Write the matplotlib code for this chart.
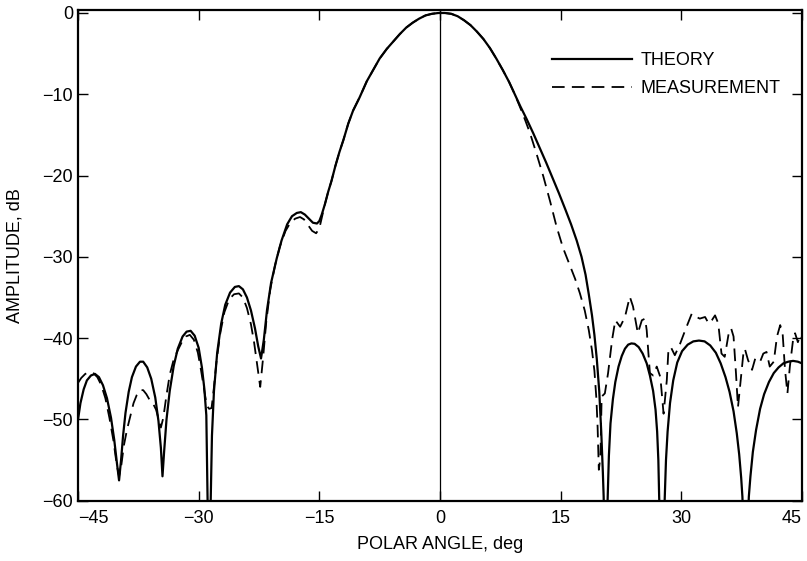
import matplotlib
matplotlib.use("Agg")
import matplotlib.pyplot as plt

plt.rcParams['font.family'] = ['Liberation Sans', 'DejaVu Sans']

# theory pattern (solid)
theory_x = [-45.0, -44.7, -44.3, -43.9, -43.4, -42.9, -42.4, -41.9, -41.4, -40.9,
            -40.5, -40.15, -39.9, -39.65, -39.4, -39.1, -38.7, -38.3, -37.8, -37.3,
            -36.9, -36.4, -35.9, -35.4, -35.0, -34.7, -34.5, -34.3, -34.0, -33.6,
            -33.1, -32.6, -32.0, -31.5, -31.0, -30.5, -30.0, -29.6, -29.3, -29.05,
            -28.9, -28.7, -28.5, -28.35, -28.1, -27.7, -27.2, -26.7, -26.1, -25.5,
            -25.0, -24.5, -24.0, -23.5, -23.0, -22.6, -22.25, -21.9, -21.5, -21.0,
            -20.3, -19.7, -19.0, -18.4, -17.8, -17.3, -16.8, -16.3, -15.8, -15.3,
            -15.0, -14.7, -14.3, -13.9, -13.5, -13.0, -12.5, -12.0, -11.4, -10.8,
            -10.0, -9.1, -8.3, -7.5, -6.6, -5.8, -5.0, -4.2, -3.4, -2.6,
            -1.8, -1.0, -0.2, 0.6, 1.4, 2.2, 3.0, 3.8, 4.6, 5.4,
            6.2, 7.0, 7.8, 8.6, 9.3, 10.0, 10.8, 11.6, 12.4, 13.2,
            14.0, 14.8, 15.6, 16.3, 17.0, 17.6, 18.1, 18.5, 18.9, 19.2,
            19.5, 19.8, 20.05, 20.25, 20.35, 20.55, 20.85, 21.0, 21.2, 21.5,
            21.8, 22.2, 22.6, 23.0, 23.4, 23.8, 24.2, 24.7, 25.2, 25.7,
            26.1, 26.5, 26.8, 27.0, 27.15, 27.25, 27.6, 27.95, 28.1, 28.3,
            28.6, 29.0, 29.5, 30.1, 30.8, 31.5, 32.2, 32.9, 33.6, 34.3,
            34.9, 35.5, 36.0, 36.5, 36.9, 37.2, 37.45, 37.6, 38.0, 38.4,
            38.6, 38.9, 39.3, 39.8, 40.3, 40.9, 41.5, 42.1, 42.7, 43.3,
            43.9, 44.5, 45.0]
theory_db = [-50.0, -48.0, -46.3, -45.2, -44.6, -44.4, -44.8, -45.8, -47.4, -49.8,
             -52.5, -55.5, -57.5, -55.0, -52.0, -49.2, -46.6, -44.8, -43.5, -42.9,
             -42.9, -43.6, -45.0, -47.3, -50.2, -53.5, -57.0, -54.0, -50.0, -46.5,
             -43.4, -41.3, -39.8, -39.2, -39.1, -39.7, -41.2, -43.6, -46.2, -49.5,
             -59.5, -70.0, -59.5, -52.0, -46.5, -41.8, -38.2, -35.9, -34.4, -33.7,
             -33.6, -34.0, -35.0, -36.6, -38.8, -41.0, -42.5, -40.2, -36.5, -33.2,
             -30.2, -28.0, -26.0, -25.0, -24.6, -24.5, -24.8, -25.3, -25.8, -25.9,
             -25.6, -24.8, -23.5, -22.0, -20.7, -18.8, -17.1, -15.6, -13.6, -12.0,
             -10.4, -8.4, -7.0, -5.6, -4.4, -3.5, -2.6, -1.8, -1.2, -0.7,
             -0.3, -0.1, 0.0, 0.0, -0.1, -0.4, -0.9, -1.5, -2.3, -3.2,
             -4.3, -5.6, -7.0, -8.5, -10.0, -11.5, -13.1, -14.8, -16.6, -18.4,
             -20.3, -22.2, -24.2, -26.0, -28.0, -30.0, -32.2, -34.6, -37.2, -39.6,
             -42.6, -46.5, -51.5, -56.5, -59.5, -70.0, -59.5, -54.5, -50.5, -47.5,
             -45.4, -43.5, -42.2, -41.3, -40.8, -40.65, -40.7, -41.1, -41.9, -43.1,
             -44.6, -46.5, -48.8, -51.5, -55.0, -59.5, -70.0, -59.5, -55.0, -51.5,
             -48.0, -45.2, -43.0, -41.6, -40.8, -40.4, -40.3, -40.4, -40.9, -41.8,
             -43.1, -44.8, -46.6, -49.0, -51.7, -54.3, -57.2, -59.5, -70.0, -59.5,
             -57.0, -54.0, -51.3, -48.7, -46.9, -45.4, -44.3, -43.6, -43.1, -42.9,
             -42.8, -42.9, -43.1]

meas_x = [-45.0, -44.6, -44.1, -43.6, -43.1, -42.6, -42.1, -41.6, -41.1, -40.6,
          -40.2, -39.9, -39.6, -39.3, -38.9, -38.5, -38.1, -37.7, -37.3, -36.9,
          -36.5, -36.1, -35.7, -35.3, -35.0, -34.7, -34.4, -34.0, -33.6, -33.1,
          -32.6, -32.1, -31.6, -31.1, -30.6, -30.1, -29.7, -29.3, -29.0, -28.7,
          -28.4, -28.15, -27.8, -27.3, -26.8, -26.2, -25.6, -25.0, -24.5, -24.0,
          -23.5, -23.1, -22.7, -22.35, -22.0, -21.6, -21.1, -20.5, -19.9, -19.2,
          -18.6, -18.0, -17.4, -16.9, -16.4, -15.9, -15.4, -15.0, -14.7, -14.3,
          -13.9, -13.5, -13.0, -12.5, -12.0, -11.4, -10.8, -10.0, -9.1, -8.3,
          -7.5, -6.6, -5.8, -5.0, -4.2, -3.4, -2.6, -1.8, -1.0, -0.2,
          0.6, 1.4, 2.2, 3.0, 3.8, 4.6, 5.4, 6.2, 7.0, 7.8,
          8.6, 9.3, 10.0, 10.6, 11.2, 12.0, 12.85, 13.7, 14.5, 15.3,
          16.2, 16.8, 17.4, 18.0, 18.5, 18.9, 19.2, 19.45, 19.6, 19.75,
          19.95, 20.05, 20.1, 20.5, 20.9, 21.4, 21.8, 22.4, 23.0, 23.6,
          24.0, 24.6, 25.1, 25.5, 25.7, 26.1, 26.5, 26.95, 27.4, 27.8,
          28.2, 28.4, 28.7, 29.2, 29.85, 30.5, 31.3, 31.9, 32.3, 32.96,
          33.4, 33.8, 34.2, 34.6, 35.0, 35.4, 35.9, 36.2, 36.5, 36.8,
          37.05, 37.3, 37.7, 37.9, 38.3, 38.8, 39.2, 39.8, 40.2, 40.6,
          41.0, 41.5, 41.9, 42.3, 42.6, 42.9, 43.2, 43.5, 43.9, 44.15,
          44.5, 44.8, 45.0]
meas_db = [-45.5, -44.9, -44.4, -44.2, -44.3, -44.8, -45.8, -47.4, -49.8, -52.6,
           -55.5, -57.0, -55.5, -53.2, -51.2, -49.6, -48.0, -47.0, -46.4, -46.4,
           -46.9, -47.6, -48.0, -48.8, -49.9, -51.0, -49.8, -47.0, -44.5, -42.6,
           -41.5, -40.5, -39.8, -39.6, -40.2, -41.8, -44.0, -46.5, -48.3, -48.7,
           -48.6, -46.5, -43.0, -39.3, -36.8, -35.2, -34.6, -34.5, -35.0, -36.3,
           -38.3, -40.6, -43.5, -46.0, -42.5, -38.0, -34.0, -31.0, -28.7, -26.8,
           -25.8, -25.3, -25.1, -25.4, -26.1, -26.8, -27.1, -26.5, -25.2, -23.5,
           -22.0, -20.7, -18.8, -17.1, -15.6, -13.6, -12.0, -10.4, -8.4, -7.0,
           -5.6, -4.4, -3.5, -2.6, -1.8, -1.2, -0.7, -0.3, -0.1, 0.0,
           0.0, -0.1, -0.4, -0.9, -1.5, -2.3, -3.2, -4.3, -5.6, -7.0,
           -8.5, -10.0, -11.7, -13.2, -14.8, -17.3, -20.1, -23.2, -26.3, -28.9,
           -31.2, -32.7, -34.5, -36.6, -39.0, -41.5, -44.0, -47.5, -51.0, -56.2,
           -54.6, -50.0, -47.2, -46.8, -44.3, -40.2, -37.8, -38.6, -37.4, -34.9,
           -36.1, -39.4, -37.8, -37.6, -39.0, -44.3, -44.6, -43.5, -44.8, -49.3,
           -45.2, -41.5, -41.1, -42.1, -40.7, -39.0, -37.0, -37.4, -37.6, -37.4,
           -38.2, -37.8, -37.2, -38.2, -41.9, -42.3, -39.4, -38.8, -39.8, -44.3,
           -48.5, -46.0, -42.1, -41.3, -42.7, -43.9, -42.5, -42.9, -41.9, -41.7,
           -43.5, -42.9, -39.8, -38.4, -39.4, -43.9, -46.8, -43.5, -40.2, -39.4,
           -40.5, -39.6, -40.0]

xticks = [-45, -30, -15, 0, 15, 30, 45]
yticks = [0, -10, -20, -30, -40, -50, -60]

fig = plt.figure(figsize=(8.07, 5.61), dpi=100)
ax = fig.add_axes([0.0967, 0.1075, 0.897, 0.8747])

ax.plot(theory_x, theory_db, color='black', lw=1.6, label='THEORY')
ax.plot(meas_x, meas_db, color='black', lw=1.3, ls=(0, (7, 4)), label='MEASUREMENT')
ax.axvline(0, color='black', lw=0.9)

ax.set_xlim(-45, 45)
ax.set_ylim(-60, 0.37)
ax.set_xticks(xticks)
ax.set_xticklabels([str(v).replace('-', '\u2212') for v in xticks])
ax.set_yticks(yticks)
ax.set_yticklabels([str(v).replace('-', '\u2212') for v in yticks])
labs = ax.get_xticklabels()
labs[0].set_horizontalalignment('left')
labs[-1].set_horizontalalignment('right')

ax.tick_params(direction='in', top=True, right=True, length=7, width=1,
               labelsize=13)
ax.tick_params(axis='x', pad=7)
for s in ax.spines.values():
    s.set_linewidth(1.6)

ax.set_xlabel('POLAR ANGLE, deg', fontsize=13, labelpad=6)
ax.set_ylabel('AMPLITUDE, dB', fontsize=13)
ax.yaxis.set_label_coords(-0.076, 0.5)

ax.legend(loc='upper left', bbox_to_anchor=(0.655, 0.914), frameon=False,
          fontsize=13, handlelength=4.4, handletextpad=0.5, labelspacing=0.62,
          borderpad=0, borderaxespad=0)

fig.savefig('out.png', dpi=100)
